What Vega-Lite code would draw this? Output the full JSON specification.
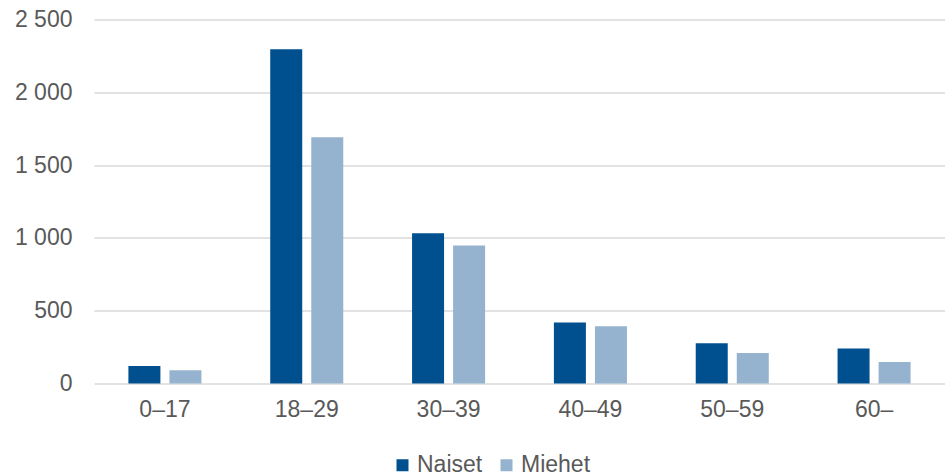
{
  "$schema": "https://vega.github.io/schema/vega-lite/v6.json",
  "width": 851,
  "height": 364,
  "autosize": "none",
  "padding": {"left": 94, "top": 19.5, "right": 0, "bottom": 92.5},
  "background": "white",
  "config": {"view": {"stroke": null}, "font": "Liberation Sans"},
  "data": {
    "values": [
      {"ika": "0–17", "sukupuoli": "Naiset", "maara": 121},
      {"ika": "0–17", "sukupuoli": "Miehet", "maara": 91},
      {"ika": "18–29", "sukupuoli": "Naiset", "maara": 2296},
      {"ika": "18–29", "sukupuoli": "Miehet", "maara": 1692},
      {"ika": "30–39", "sukupuoli": "Naiset", "maara": 1032},
      {"ika": "30–39", "sukupuoli": "Miehet", "maara": 948},
      {"ika": "40–49", "sukupuoli": "Naiset", "maara": 419},
      {"ika": "40–49", "sukupuoli": "Miehet", "maara": 393},
      {"ika": "50–59", "sukupuoli": "Naiset", "maara": 277},
      {"ika": "50–59", "sukupuoli": "Miehet", "maara": 210},
      {"ika": "60–", "sukupuoli": "Naiset", "maara": 240},
      {"ika": "60–", "sukupuoli": "Miehet", "maara": 148}
    ]
  },
  "mark": {"type": "bar"},
  "encoding": {
    "x": {
      "field": "ika",
      "type": "nominal",
      "sort": null,
      "scale": {"paddingInner": 0.485, "paddingOuter": 0.2425},
      "axis": {
        "title": null,
        "labelAngle": 0,
        "labelFontSize": 23,
        "labelColor": "#595959",
        "labelPadding": 15,
        "ticks": false,
        "domain": false
      }
    },
    "xOffset": {
      "field": "sukupuoli",
      "type": "nominal",
      "sort": ["Naiset", "Miehet"],
      "scale": {"paddingInner": 0.22, "paddingOuter": 0}
    },
    "y": {
      "field": "maara",
      "type": "quantitative",
      "scale": {"domain": [0, 2500], "nice": false},
      "axis": {
        "title": null,
        "values": [0, 500, 1000, 1500, 2000, 2500],
        "labelExpr": "replace(format(datum.value, ','), ',', ' ')",
        "labelFontSize": 23,
        "labelColor": "#595959",
        "labelPadding": 22,
        "ticks": false,
        "domain": false,
        "gridColor": "#d9d9d9",
        "gridWidth": 1.5
      }
    },
    "color": {
      "field": "sukupuoli",
      "type": "nominal",
      "sort": ["Naiset", "Miehet"],
      "scale": {"domain": ["Naiset", "Miehet"], "range": ["#00508f", "#95b3cf"]},
      "legend": {
        "title": null,
        "orient": "none",
        "direction": "horizontal",
        "legendX": 297,
        "legendY": 434,
        "symbolType": "square",
        "symbolSize": 144,
        "symbolStrokeWidth": 0,
        "labelFontSize": 23,
        "labelColor": "#595959",
        "labelOffset": 3,
        "columnPadding": 12
      }
    }
  }
}
